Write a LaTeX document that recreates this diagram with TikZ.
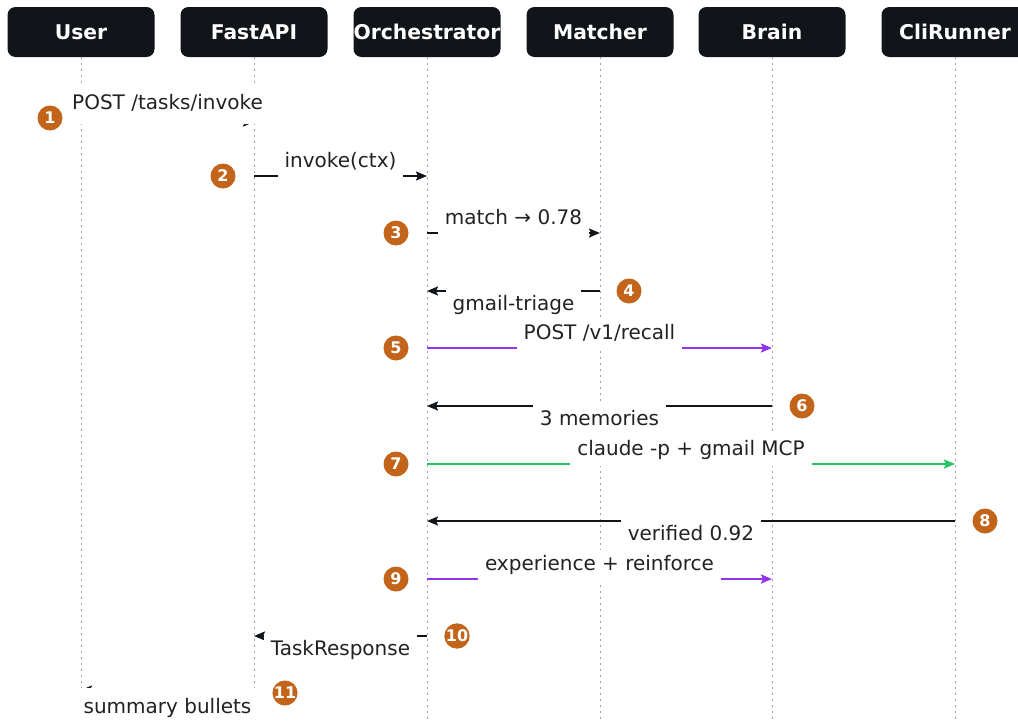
\documentclass[tikz,border=0pt]{standalone}
\usepackage{fontspec}
\setmainfont{DejaVu Sans}
\usepackage{tikz}
\usetikzlibrary{arrows.meta}
\definecolor{nero}{HTML}{111418}
\definecolor{arancio}{HTML}{C2651A}
\definecolor{viola}{HTML}{9333EA}
\definecolor{verde}{HTML}{22C55E}
\definecolor{grigio}{HTML}{9AA3B5}
\definecolor{testo}{HTML}{222222}

\begin{document}
\begin{tikzpicture}[x=1pt,y=-1pt,
    attore/.style={fill=nero, rounded corners=8pt, minimum width=147pt, minimum height=50pt,
      inner sep=0pt, text=white, font=\fontsize{20.3}{22}\selectfont\bfseries},
    vita/.style={grigio, line width=1pt, dash pattern=on 2pt off 4pt},
    msg/.style={nero, line width=2pt, -{Stealth[length=11pt,width=9pt,inset=2pt]}},
    etic/.style={midway, fill=white, text=testo, inner xsep=7pt, inner ysep=6pt,
      text height=15pt, text depth=4pt, font=\fontsize{20}{22}\selectfont},
    sopra/.style={etic, yshift=14pt},
    sotto/.style={etic, yshift=-14pt},
    badge/.style={circle, fill=arancio, text=white, minimum size=25pt, inner sep=0pt,
      font=\fontsize{16}{16}\selectfont\bfseries}]
        \useasboundingbox (0,0) rectangle (1018,723);
        % Partecipanti e linee di vita
        \foreach \nome/\x/\testo in {user/81/User, fastapi/254/FastAPI, orch/427/Orchestrator,
            matcher/600/Matcher, brain/772/Brain, cli/955/CliRunner}
            \node[attore] (\nome) at (\x,32) {\testo};
        \coordinate (fondo) at (0,723);
        \foreach \nome in {user,fastapi,orch,matcher,brain,cli}
            \draw[vita] (\nome.south) -- (\nome.south |- fondo);
        % Righe dei messaggi
        \foreach \i/\y in {1/122,2/176,3/233,4/291,5/348,6/406,7/464,8/521,9/579,10/636,11/690}
            \coordinate (r\i) at (0,\y);
        % Messaggi
        \draw[msg] (user |- r1) -- (fastapi |- r1) node[sopra, yshift=4pt, inner ysep=10pt]{POST /tasks/invoke};
        \draw[msg] (fastapi |- r2) -- (orch |- r2) node[sopra]{invoke(ctx)};
        \draw[msg] (orch |- r3) -- (matcher |- r3) node[sopra]{match → 0.78};
        \draw[msg] (matcher |- r4) -- (orch |- r4) node[sotto]{gmail-triage};
        \draw[msg, viola] (orch |- r5) -- (brain |- r5) node[sopra]{POST /v1/recall};
        \draw[msg] (brain |- r6) -- (orch |- r6) node[sotto]{3 memories};
        \draw[msg, verde] (orch |- r7) -- (cli |- r7) node[sopra]{claude -p + gmail MCP};
        \draw[msg] (cli |- r8) -- (orch |- r8) node[sotto]{verified 0.92};
        \draw[msg, viola] (orch |- r9) -- (brain |- r9) node[sopra]{experience + reinforce};
        \draw[msg] (orch |- r10) -- (fastapi |- r10) node[sotto]{TaskResponse};
        \draw[msg] (fastapi |- r11) -- (user |- r11) node[sotto, yshift=-4pt, inner ysep=11pt]{summary bullets};
        % Numeri dei passi
        \foreach \i/\x/\y in {1/50/118, 2/223/176, 3/396/233, 4/629/291, 5/396/348, 6/802/406,
            7/396/464, 8/985/521, 9/396/579, 10/457/636, 11/285/693}
            \node[badge] (n\i) at (\x,\y) {\i};
    \end{tikzpicture}
\end{document}
